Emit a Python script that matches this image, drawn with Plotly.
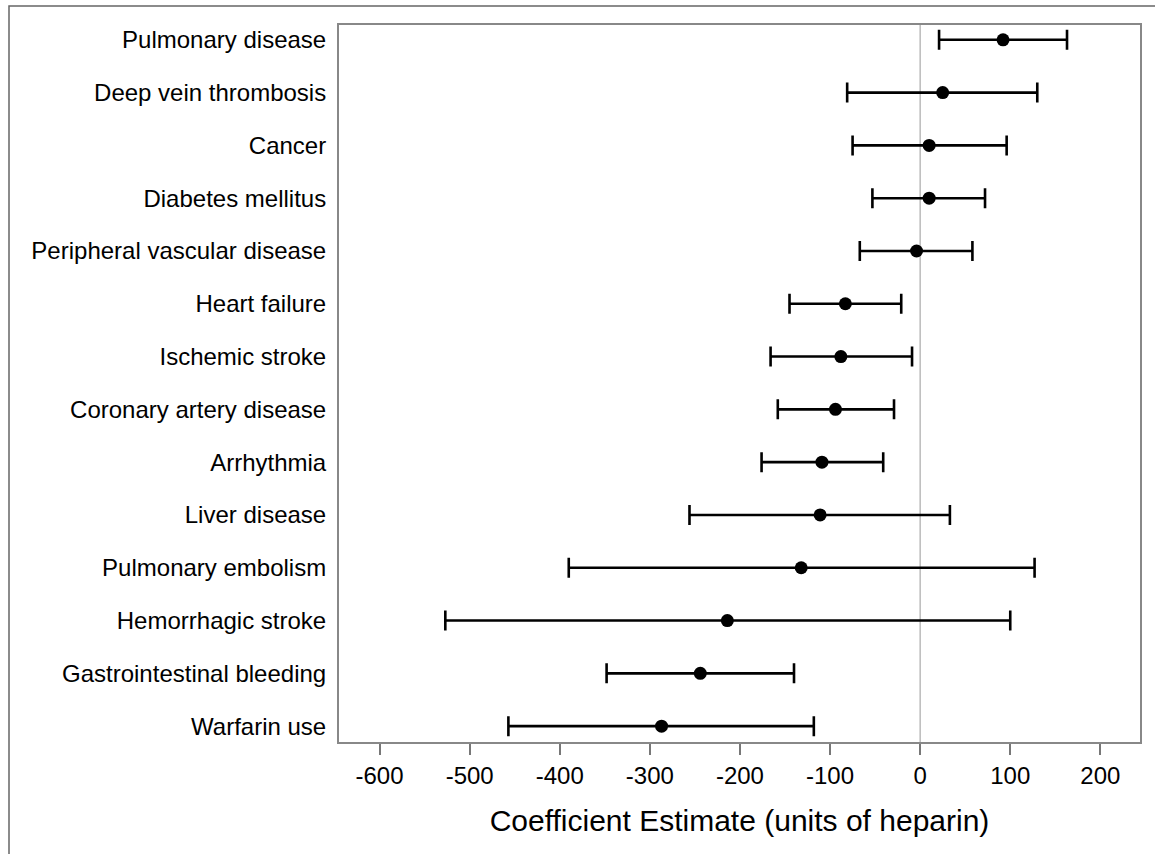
import plotly.graph_objects as go

categories = ["Warfarin use", "Gastrointestinal bleeding", "Hemorrhagic stroke",
              "Pulmonary embolism", "Liver disease", "Arrhythmia",
              "Coronary artery disease", "Ischemic stroke", "Heart failure",
              "Peripheral vascular disease", "Diabetes mellitus", "Cancer",
              "Deep vein thrombosis", "Pulmonary disease"]
estimate = [-287, -244, -214, -132, -111, -109, -94, -88, -83, -4, 10, 10, 25, 92]
lower = [-457, -348, -527, -390, -256, -176, -158, -166, -145, -67, -53, -75, -81, 21]
upper = [-118, -140, 100, 127, 33, -41, -29, -9, -21, 58, 72, 96, 130, 163]
xticks = [-600, -500, -400, -300, -200, -100, 0, 100, 200]

ypos = list(range(len(categories)))
err_plus = [u - e for u, e in zip(upper, estimate)]
err_minus = [e - l for e, l in zip(estimate, lower)]

fig = go.Figure()
fig.add_trace(go.Scatter(
    x=estimate, y=ypos, mode="markers",
    marker=dict(color="black", size=13, symbol="circle"),
    error_x=dict(type="data", symmetric=False, array=err_plus, arrayminus=err_minus,
                 color="black", thickness=2.6, width=10),
    showlegend=False, hoverinfo="skip"))

fig.add_vline(x=0, line=dict(color="#b0b0b0", width=1.3), layer="below")

fig.update_layout(
    width=1155, height=854,
    margin=dict(l=339, r=15, t=25, b=112),
    paper_bgcolor="white", plot_bgcolor="white",
    font=dict(family="Liberation Sans, Arial, sans-serif", color="black"),
    xaxis=dict(range=[-645, 244], tickvals=xticks, ticktext=[str(v) for v in xticks],
               ticks="outside", ticklen=11, tickwidth=1.5, tickcolor="#777777",
               tickfont=dict(size=24, color="black"),
               showgrid=False, zeroline=False,
               showline=True, linecolor="#888888", linewidth=2, mirror=True,
               title=dict(text="Coefficient Estimate (units of heparin)",
                          font=dict(size=30, color="black"), standoff=22)),
    yaxis=dict(range=[-0.3, 13.28], tickvals=ypos, ticktext=categories,
               ticks="", showgrid=False, zeroline=False,
               tickfont=dict(size=24, color="black"), ticklabelstandoff=6,
               showline=True, linecolor="#888888", linewidth=2, mirror=True),
)

fig.add_shape(type="rect", xref="paper", yref="paper",
              x0=-330/801, x1=1.03, y0=-0.2, y1=(742 - 6) / 717,
              line=dict(color="#666666", width=1.5), fillcolor="rgba(0,0,0,0)")

fig.write_html("out.html")
